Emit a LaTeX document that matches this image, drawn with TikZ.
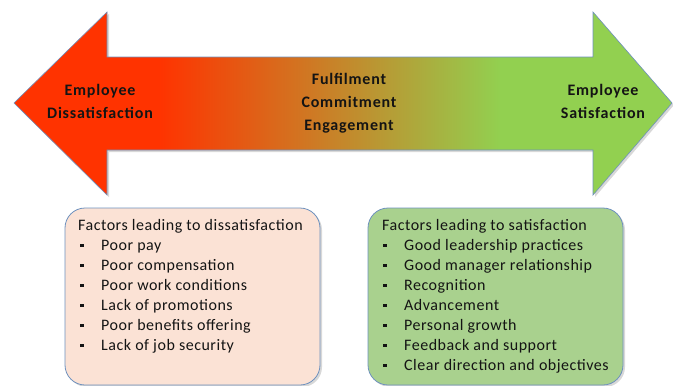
\documentclass[tikz,border=0pt]{standalone}
\usepackage{fontspec}
\setmainfont{Carlito}
\newfontfamily\arrowfont{Carlito}[LetterSpace=5]
\newfontfamily\boxfont{Carlito}[LetterSpace=3.2]
\usetikzlibrary{shadows}
\definecolor{redA}{RGB}{255,51,0}
\definecolor{greenA}{RGB}{146,208,80}
\definecolor{edgeC}{RGB}{110,145,190}
\definecolor{boxL}{RGB}{251,226,213}
\definecolor{boxR}{RGB}{169,209,142}
\pgfdeclarehorizontalshading{arrowshade}{100bp}{color(0bp)=(redA); color(36bp)=(redA); color(62bp)=(greenA); color(100bp)=(greenA)}
\tikzset{
  shad/.style={drop shadow={shadow xshift=2pt, shadow yshift=-2pt, opacity=0.25, fill=black!60}},
  arrowtxt/.style={align=center, font=\arrowfont\bfseries\fontsize{16}{23}\selectfont, text=black!92, inner sep=0pt},
  factorbox/.style={draw=edgeC, line width=0.8pt, rounded corners=20pt, shad},
  boxtxt/.style={anchor=base west, font=\boxfont\fontsize{16}{20}\selectfont, text=black!92, inner sep=0pt},
  bul/.style={fill=black!92, inner sep=0pt, minimum size=3.2pt}
}
\begin{document}
\begin{tikzpicture}[x=1pt,y=-1pt]
\useasboundingbox (0,0) rectangle (673,386);
\fill[white] (0,0) rectangle (673,386);
% double arrow
\path[shading=arrowshade, draw=edgeC, line width=0.6pt, shad]
  (14,103) -- (107,12) -- (107,57) -- (593,57) -- (593,12) -- (672,103)
  -- (593,195) -- (593,150) -- (107,150) -- (107,195) -- cycle;
\node[arrowtxt] (dis) at (100,101.5) {Employee\\Dissatisfaction};
\node[arrowtxt] (mid) at (349,103.5) {Fulfilment\\Commitment\\Engagement};
\node[arrowtxt] (sat) at (603,101.5) {Employee\\Satisfaction};
% boxes
\path[factorbox, fill=boxL] (65,208) rectangle (320,385);
\path[factorbox, fill=boxR] (368,208) rectangle (623,385);
\node[boxtxt] (lh) at (78,230) {Factors leading to dissatisfaction};
\foreach \t [count=\i] in {Poor pay, Poor compensation, Poor work conditions, Lack of promotions, Poor benefits offering, Lack of job security}{
  \node[bul] (lb\i) at (82,{230+20*\i-4.5}) {};
  \node[boxtxt] (li\i) at (101,{230+20*\i}) {\t};
}
\node[boxtxt] (rh) at (382,230) {Factors leading to satisfaction};
\foreach \t [count=\i] in {Good leadership practices, Good manager relationship, Recognition, Advancement, Personal growth, Feedback and support, Clear direction and objectives}{
  \node[bul] (rb\i) at (385,{230+20*\i-4.5}) {};
  \node[boxtxt] (ri\i) at (404,{230+20*\i}) {\t};
}
\end{tikzpicture}
\end{document}
